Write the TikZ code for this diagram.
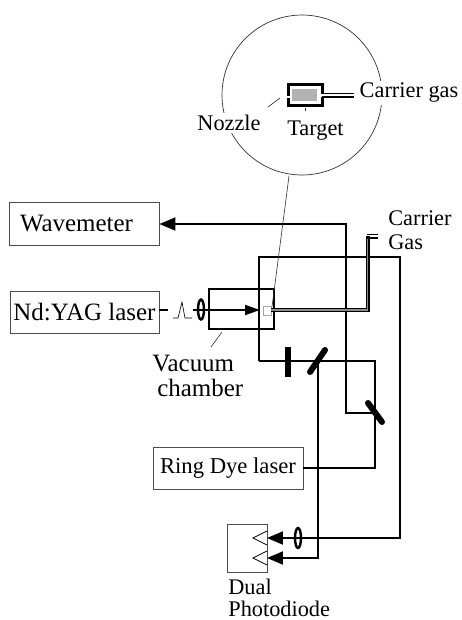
\documentclass[tikz,border=0pt]{standalone}
\usepackage{fontspec}
\setmainfont{Liberation Serif}
\usetikzlibrary{arrows.meta}

\tikzset{
  bigtext/.style={font=\fontsize{14.2}{13.6}\selectfont},
  smalltext/.style={font=\fontsize{12.7}{12.5}\selectfont},
  devicebox/.style={draw=black!70, line width=0.5pt, bigtext, inner sep=0pt},
  beam/.style={line width=1.1pt},
  beamarrow/.style={line width=1.1pt, -{Triangle[length=0.32cm, width=0.26cm]}},
  leader/.style={line width=0.35pt, black!80},
  optic/.style={line width=0.12cm, line cap=round},
  lens/.style={line width=1.4pt},
}

\begin{document}
\begin{tikzpicture}[x=0.02cm,y=-0.02cm]
    \useasboundingbox (0,0) rectangle (461,620);

    % Magnified view
    \coordinate (zoomcentre) at (302,95);
    \draw[line width=0.4pt, black!80] (zoomcentre) circle (1.6cm);
    \node[smalltext, fill=white, inner sep=1pt] (carrierlabel) at (409,93) {Carrier gas};
    \node[smalltext, fill=white, inner sep=1pt] (nozzlelabel) at (229,123) {Nozzle};
    \node[smalltext] (targetlabel) at (315.5,131) {Target};

    % Nozzle holder
    \fill[black!30] (292,89) rectangle (317,101);
    \draw[line width=1.9pt] (288.7,84.7) rectangle (322.5,105.5);
    \draw[white, line width=1.9pt] (288.7,95.5) -- (288.7,98);
    \draw[white, line width=1.9pt] (322.5,94) -- (322.5,97);
    \coordinate (tubein) at (322,93.5);
    \coordinate (tubeout) at (354,93.5);
    \coordinate (tubeinlow) at (322,97);
    \coordinate (tubeoutlow) at (354,97);
    \draw[line width=0.7pt] (tubein) -- (tubeout);
    \draw[line width=0.7pt] (tubeinlow) -- (tubeoutlow);
    \draw[leader] (268,107) -- (280,98);
    \draw[leader] (305,108) -- (305,111);

    % Devices
    \node[devicebox, minimum width=3cm, minimum height=0.86cm, text width=2.56cm, align=left] (wavemeter) at (84,223.5) {Wavemeter};
    \node[devicebox, minimum width=2.98cm, minimum height=0.84cm, align=center] (yaglaser) at (84.5,312) {Nd:YAG laser};
    \node[devicebox, font=\fontsize{12.9}{13}\selectfont, minimum width=3cm, minimum height=0.84cm, align=center] (ringlaser) at (228,468) {Ring Dye laser};
    \node[draw=black!70, line width=0.5pt, minimum width=0.8cm, minimum height=0.96cm, inner sep=0pt] (diodebox) at (247,548) {};

    % Labels
    \node[bigtext, align=left, anchor=west, inner sep=0pt] (chamberlabel) at (152,376) {Vacuum\\[0.02cm]\hspace*{0.1cm}chamber};
    \node[smalltext, align=left, anchor=west, inner sep=0pt] (gaslabel) at (388,230) {Carrier\\[0.03cm]Gas};
    \node[smalltext, align=left, anchor=north west, inner sep=0pt] (diodelabel) at (228,578.5) {Dual\\Photodiode};

    % Vacuum chamber
    \draw[line width=1.6pt] (209,289) rectangle (274,329);
    \draw[black!35, line width=0.5pt, fill=white] (263,306) rectangle (271,315);

    % Points on the beams
    \coordinate (yagdash) at (168,310);
    \coordinate (pulsestart) at (193,310);
    \coordinate (focus) at (260,310);
    \coordinate (loopbottom) at (259,361);
    \coordinate (looptop) at (259,257);
    \coordinate (loopright) at (400,257);
    \coordinate (loopcorner) at (400,538);
    \coordinate (diodeone) at (267,538);
    \coordinate (diodetwo) at (267,558);
    \coordinate (splitter) at (318,361);
    \coordinate (splitcorner) at (318,558);
    \coordinate (ringcorner) at (375,468);
    \coordinate (ringtop) at (375,361);
    \coordinate (foldmirror) at (375,413);
    \coordinate (foldcorner) at (346,413);
    \coordinate (foldtop) at (346,224);

    % Pulse
    \draw[line width=0.7pt] (yaglaser.east |- yagdash) -- (yagdash);
    \draw[line width=0.35pt] (173,318) -- (178,318) -- (182,302) -- (185,318) -- (192,318);

    % Beams
    \draw[line width=1.1pt, -{Triangle[length=0.3cm, width=0.2cm]}] (pulsestart) -- (focus);
    \draw[beam] (loopbottom) -- (splitter);
    \draw[beamarrow] (loopbottom) -- (looptop) -- (loopright) -- (loopcorner) -- (diodeone);
    \draw[beam] (ringlaser.east) -- (ringcorner) -- (ringtop) -- (splitter);
    \draw[beamarrow] (splitter) -- (splitcorner) -- (diodetwo);
    \draw[beamarrow] (foldmirror) -- (foldcorner) -- (foldtop) -- (wavemeter.east |- foldtop);

    % Carrier gas line
    \draw[line width=2.1pt] (271,310) -- (368,310) -- (368,236);
    \draw[black!45, line width=0.7pt] (271,310) -- (367.5,310) -- (367.5,237);
    \draw[line width=0.6pt] (367,234.5) -- (378,234.5);
    \draw[line width=0.6pt] (367,238) -- (378,238);

    % Optics
    \draw[lens] (201,309.5) ellipse (3 and 10);
    \draw[lens] (298,538) ellipse (3 and 10);
    \draw[line width=0.12cm] (288,347) -- (288,377);
    \draw[optic] (310,372) -- (325,350);
    \draw[optic] (368,403) -- (382,422);

    % Diodes
    \draw[line width=0.4pt] (267,531) -- (253,538) -- (267,545);
    \draw[line width=0.4pt] (267,551) -- (253,558) -- (267,565);

    % Leaders
    \draw[leader] (211,347) -- (222,332);
    \draw[leader] (289,176) -- (272,307);

\end{tikzpicture}
\end{document}
